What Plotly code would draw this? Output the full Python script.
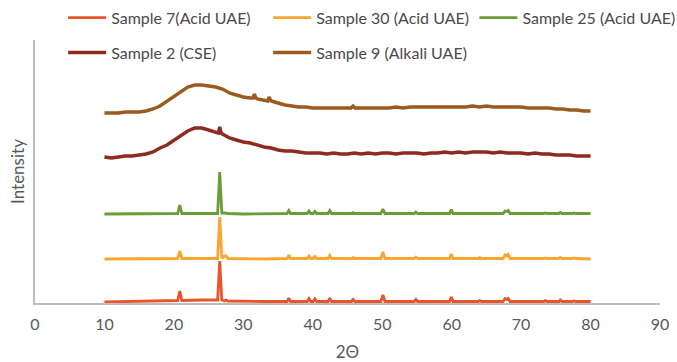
import plotly.graph_objects as go

# ---- data -------------------------------------------------------------
# Crystalline (UAE acid) patterns share one 2-theta grid
two_theta_cryst = [10, 14, 18, 20.55, 20.85, 21.15, 24, 26.3, 26.6, 26.9, 27.3, 27.5, 27.8,
                   30, 33, 36.3, 36.55, 36.8, 39.2, 39.45, 39.7, 40.05, 40.3, 40.55,
                   42.2, 42.45, 42.7, 45.55, 45.8, 46.05, 49.8, 50.1, 50.4, 54.6, 54.85, 55.1,
                   59.7, 59.95, 60.2, 63.8, 64.05, 64.3, 67.4, 67.7, 67.95, 68.15, 68.4,
                   73.25, 73.5, 73.75, 75.45, 75.65, 75.9, 77.4, 77.65, 77.9, 80]

sample7 = [0, 0.5, 1, 1.5, 11, 1.5, 2, 2, 41, 2, 1, 2, 1,
           0.5, 0.5, 0.5, 4, 0.5, 0.5, 3.5, 0.5, 0.5, 3, 0.5,
           0.5, 4, 0.5, 0.5, 2.5, 0.5, 0.5, 7, 0.5, 0.5, 2.5, 0.5,
           0.5, 5, 0.5, 0.5, 1.5, 0.5, 0.5, 3.5, 2.5, 3.5, 0.5,
           0.5, 1.5, 0.5, 0.5, 2, 0.5, 0.5, 1, 0.5, 0.5]

sample30 = [0, 0, 0, 0.5, 8, 0.5, 0.5, 0.5, 42, 1, 3, 3, 0.5,
            0, 0, 0.5, 4, 0.5, 0.5, 3, 0.5, 0.5, 2.5, 0.5,
            0.5, 3.5, 0.5, 0.5, 1.5, 0.5, 0.5, 7, 0.5, 0.5, 2, 0.5,
            0.5, 5, 0.5, 0.5, 1.5, 0.5, 0.5, 4, 3, 4.5, 0.5,
            0.5, 1, 0.5, 0.5, 1.5, 0.5, 0.5, 1, 0.5, 0]

sample25 = [0, 0, 0, 0.5, 9, 0.5, 0.5, 0.5, 42, 1, 1, 1, 0.5,
            0, 0, 0.5, 3.5, 0.5, 0.5, 3, 0.5, 0.5, 2.5, 0.5,
            0.5, 3.5, 0.5, 0.5, 1.5, 0.5, 0.5, 5, 0.5, 0.5, 2, 0.5,
            0.5, 4.5, 0.5, 0.5, 1, 0.5, 0.5, 3, 2.5, 3.5, 0.5,
            0.5, 1, 0.5, 0.5, 1.5, 0.5, 0.5, 1, 0.5, 0.5]

# Amorphous patterns (CSE and alkali UAE)
two_theta_cse = [10, 11, 12, 13, 14, 15, 16, 17, 18, 19, 20, 21, 22, 23, 24, 25, 26,
                 26.4, 26.6, 26.8, 27, 28, 29, 30, 31, 32, 33, 34, 35, 36, 37, 38, 39, 40,
                 41, 42, 43, 44, 45, 46, 47, 48, 49, 50, 51, 52, 53, 54, 55, 56, 57, 58,
                 59, 60, 61, 62, 63, 64, 65, 66, 67, 68, 69, 70, 71, 72, 73, 74, 75, 76,
                 77, 78, 79, 80]
sample2 = [1, 0, 1, 2, 2, 3, 4, 6, 10, 13, 18, 22, 27, 30, 30, 28, 26,
           25, 31, 25, 24, 20, 18, 16, 15, 13, 11, 10, 8, 7, 7, 6, 5, 5,
           5, 4, 5, 4, 4, 5, 4, 5, 4, 5, 5, 4, 5, 5, 5, 4, 5, 5,
           6, 5, 6, 5, 6, 6, 6, 5, 6, 5, 5, 5, 4, 5, 4, 4, 3, 3,
           3, 2, 2, 2]

two_theta_alk = [10, 11, 12, 13, 14, 15, 16, 17, 18, 19, 20, 21, 22, 23, 24, 25, 26, 27,
                 28, 29, 30, 31, 31.4, 31.6, 31.8, 32, 33, 33.5, 33.7, 33.9, 34, 35, 36, 37,
                 38, 39, 40, 41, 42, 43, 44, 45, 45.5, 45.8, 46.1, 47, 48, 49, 50, 51, 52,
                 53, 54, 55, 56, 57, 58, 59, 60, 61, 62, 63, 64, 65, 66, 67, 68, 69, 70,
                 71, 72, 73, 74, 75, 76, 77, 78, 79, 80]
sample9 = [0, 0, 0, 1, 1, 1, 2, 4, 7, 12, 17, 22, 26, 28, 28, 27, 26, 24,
           20, 18, 16, 15, 15, 19, 15, 14, 13, 12, 16, 12, 12, 10, 8, 7,
           6, 6, 5, 5, 5, 5, 5, 5, 5, 7, 5, 5, 5, 5, 5, 5, 6,
           5, 6, 6, 6, 6, 6, 6, 6, 6, 6, 7, 6, 7, 6, 6, 6, 6, 6,
           5, 5, 5, 5, 4, 4, 3, 3, 2, 2]

# ---- figure -----------------------------------------------------------
# (label, x, y, vertical offset, colour, line width)
series = [
    ("Sample 7(Acid UAE)", two_theta_cryst, sample7, 1, "#E9542B", 2.8),
    ("Sample 30 (Acid UAE)", two_theta_cryst, sample30, 44, "#F9A530", 2.8),
    ("Sample 25 (Acid UAE)", two_theta_cryst, sample25, 89, "#6A9C3A", 2.8),
    ("Sample 2 (CSE)", two_theta_cse, sample2, 145, "#8E2A20", 3.4),
    ("Sample 9 (Alkali UAE)", two_theta_alk, sample9, 190, "#9B5A1E", 3.4),
]
# one legend box per entry, laid out as a 3 + 2 grid
legend_pos = [(0.045, 1.149), (0.373, 1.149), (0.703, 1.149),
              (0.045, 1.017), (0.373, 1.017)]

font_family = "Lato, 'Open Sans', sans-serif"
fig = go.Figure()
layout_legends = {}
for i, ((name, xs, ys, offset, color, lw), (lx, ly)) in enumerate(zip(series, legend_pos)):
    key = "legend" if i == 0 else f"legend{i + 1}"
    fig.add_trace(go.Scatter(
        x=xs, y=[v + offset for v in ys], mode="lines", name=name,
        line=dict(color=color, width=lw), legend=key,
    ))
    layout_legends[key] = dict(
        x=lx, y=ly, xanchor="left", yanchor="top", orientation="h",
        font=dict(family=font_family, size=16, color="#4a4a4a"),
        bgcolor="rgba(0,0,0,0)", itemwidth=38,
    )

fig.update_layout(
    width=677, height=362,
    margin=dict(l=35, r=17, t=40, b=59, autoexpand=False),
    paper_bgcolor="white", plot_bgcolor="white",
    font=dict(family=font_family, color="#595959"),
    showlegend=True,
    xaxis=dict(range=[0, 90], dtick=10, tick0=0, showgrid=False, zeroline=False,
               showline=True, linecolor="#BFBFBF", linewidth=1.5, ticks="",
               ticklabelstandoff=6,
               tickfont=dict(size=16, color="#595959"),
               title=dict(text="2Θ", font=dict(size=17, color="#595959"), standoff=16)),
    yaxis=dict(range=[0, 263], showticklabels=False, showgrid=False, zeroline=False,
               showline=True, linecolor="#BFBFBF", linewidth=1.5, ticks="",
               title=dict(text="Intensity", font=dict(size=17, color="#595959"), standoff=4)),
    **layout_legends,
)

fig.write_html("out.html")
